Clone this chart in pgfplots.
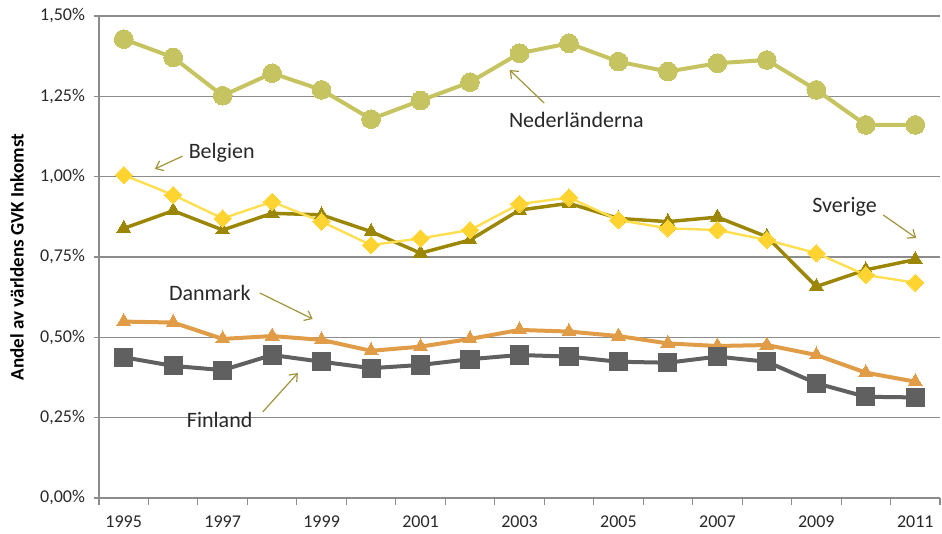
\documentclass[border=0pt]{standalone}
\usepackage{pgfplots}
\pgfplotsset{compat=1.18}
\usepackage{pgfplotstable}
\usepackage{fontspec}
\setmainfont{Carlito}
\usetikzlibrary{arrows.meta}

\definecolor{nedcol}{RGB}{198,196,96}
\definecolor{belcol}{RGB}{255,212,48}
\definecolor{belline}{RGB}{255,222,80}
\definecolor{svecol}{RGB}{156,134,6}
\definecolor{dancol}{RGB}{224,156,70}
\definecolor{fincol}{RGB}{96,96,96}
\definecolor{gridcol}{RGB}{140,140,140}
\definecolor{arrowcol}{RGB}{160,148,60}
\definecolor{txtcol}{RGB}{40,40,40}

% Andel av världens GVK-inkomst (procent)
\pgfplotstableread{
year ned   bel   sve   dan   fin
1995 1.428 1.005 0.839 0.549 0.438
1996 1.371 0.943 0.894 0.546 0.411
1997 1.252 0.870 0.834 0.495 0.398
1998 1.322 0.922 0.886 0.504 0.445
1999 1.270 0.860 0.881 0.492 0.424
2000 1.179 0.787 0.829 0.458 0.404
2001 1.237 0.808 0.762 0.471 0.414
2002 1.294 0.834 0.803 0.495 0.432
2003 1.384 0.915 0.896 0.523 0.445
2004 1.415 0.935 0.917 0.518 0.440
2005 1.358 0.865 0.870 0.504 0.424
2006 1.327 0.839 0.860 0.481 0.421
2007 1.353 0.834 0.874 0.473 0.440
2008 1.363 0.803 0.813 0.476 0.424
2009 1.270 0.762 0.658 0.445 0.357
2010 1.161 0.694 0.710 0.390 0.315
2011 1.161 0.670 0.742 0.362 0.313
}\gvkdata

\begin{document}
\begin{tikzpicture}
\begin{axis}[
  scale only axis,
  width=630.75pt, height=361.5pt,
  xmin=1994.5, xmax=2011.5,
  ymin=0, ymax=1.5,
  axis x line*=bottom, axis y line*=left,
  axis line style={draw=gridcol, line width=0.8pt},
  ymajorgrids,
  grid style={draw=gridcol, line width=0.8pt},
  tick align=outside,
  ytick={0,0.25,0.5,0.75,1,1.25,1.5},
  yticklabels={{0,00\%},{0,25\%},{0,50\%},{0,75\%},{1,00\%},{1,25\%},{1,50\%}},
  xtick={1995,1997,1999,2001,2003,2005,2007,2009,2011},
  xticklabels={1995,1997,1999,2001,2003,2005,2007,2009,2011},
  minor xtick={1994.5,1995.5,...,2011.5},
  major tick length=4pt,
  minor tick length=5pt,
  x tick style={draw=none},
  minor x tick style={draw=gridcol, line width=0.8pt},
  y tick style={draw=gridcol, line width=0.8pt},
  tick label style={font=\fontsize{13.5}{16}\selectfont, text=txtcol},
  xticklabel style={yshift=-6pt},
  yticklabel style={xshift=-3pt},
  ylabel={Andel av världens GVK Inkomst},
  ylabel style={at={(rel axis cs:0,0.5)}, anchor=center, yshift=61.5pt,
                font=\bfseries\fontsize{14.3}{17}\selectfont, text=black},
  clip=false,
  line join=round,
]
\addplot[color=nedcol, line width=3pt, mark=*, mark size=7pt,
  mark options={fill=nedcol, draw=nedcol, line width=0pt}]
  table[x=year, y=ned] {\gvkdata};
\addplot[color=svecol, line width=2.6pt, mark=triangle*, mark size=6pt,
  mark options={fill=svecol, draw=svecol, line width=0pt}]
  table[x=year, y=sve] {\gvkdata};
\addplot[color=belline, line width=1.8pt, mark=square*, mark size=4.6pt,
  mark options={fill=belcol, draw=belcol, line width=0pt, rotate=45}]
  table[x=year, y=bel] {\gvkdata};
\addplot[color=dancol, line width=3pt, mark=triangle*, mark size=6pt,
  mark options={fill=dancol, draw=dancol, line width=0pt}]
  table[x=year, y=dan] {\gvkdata};
\addplot[color=fincol, line width=3pt, mark=square*, mark size=6.8pt,
  mark options={fill=fincol, draw=fincol, line width=0pt}]
  table[x=year, y=fin] {\gvkdata};

% landnamn med pilar
\begin{scope}[every node/.style={font=\fontsize{16.5}{19}\selectfont, text=txtcol},
              ann/.style={draw=arrowcol, line width=0.9pt,
                -{Straight Barb[length=5pt,width=8pt]}}]
  \node at (axis cs:2004.15,1.176) {Nederländerna};
  \draw[ann] (axis cs:2003.5,1.229) -- (axis cs:2002.8,1.332);
  \node at (axis cs:1996.98,1.074) {Belgien};
  \draw[ann] (axis cs:1996.19,1.064) -- (axis cs:1995.63,1.024);
  \node at (axis cs:2009.57,0.906) {Sverige};
  \draw[ann] (axis cs:2010.35,0.881) -- (axis cs:2011.02,0.809);
  \node at (axis cs:1996.74,0.638) {Danmark};
  \draw[ann] (axis cs:1997.75,0.638) -- (axis cs:1998.82,0.557);
  \node at (axis cs:1996.94,0.243) {Finland};
  \draw[ann] (axis cs:1997.81,0.268) -- (axis cs:1998.52,0.389);
\end{scope}
\coordinate (bl) at (rel axis cs:0,0);
\end{axis}
\path (bl) ++(-74.25pt,-27pt) rectangle ++(706.5pt,400.5pt);
\end{tikzpicture}
\end{document}
